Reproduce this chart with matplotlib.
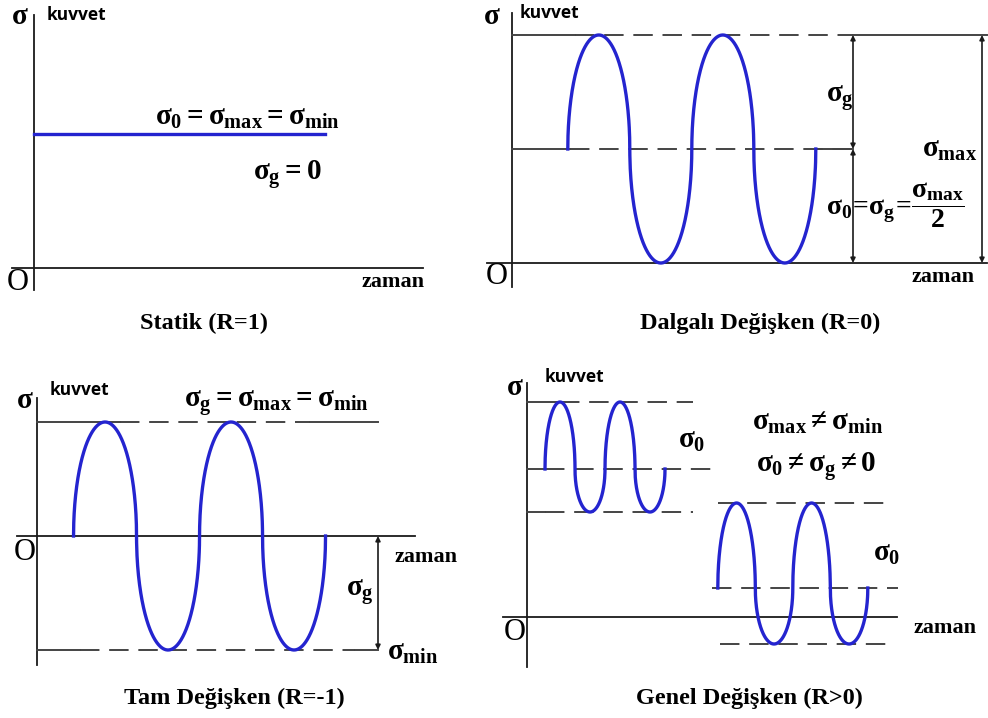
import numpy as np
import matplotlib.pyplot as plt

plt.rcParams['mathtext.fontset'] = 'custom'
plt.rcParams['mathtext.rm'] = 'Liberation Serif:bold'
plt.rcParams['mathtext.it'] = 'Liberation Serif:bold'
plt.rcParams['mathtext.bf'] = 'Liberation Serif:bold'
plt.rcParams['lines.scale_dashes'] = False

W, H = 988, 718
MAVI = '#2424cf'
SIYAH = '#1a1a1a'
GRI = '#444444'
KESIK = (0, (14, 7))

# gerilme seviyeleri (σmax, σ0, σmin) ve zaman bilgileri (periyot birimi)
statik_s0 = 1.0
statik_sure = 4.7

dalgali_smax, dalgali_s0, dalgali_smin = 2.0, 1.0, 0.0
dalgali_t0, dalgali_periyot, dalgali_cevrim = 0.45, 1.0, 2

tam_smax, tam_s0, tam_smin = 1.0, 0.0, -1.0
tam_t0, tam_periyot, tam_cevrim = 0.29, 1.0, 2

genel1_smax, genel1_s0, genel1_smin = 2.15, 1.48, 1.05
genel1_t0, genel1_periyot, genel1_cevrim = 0.30, 1.0, 2
genel2_smax, genel2_s0, genel2_smin = 1.14, 0.29, -0.27
genel2_t0, genel2_periyot, genel2_cevrim = 3.18, 1.25, 2

basliklar = ['Statik (R=1)', 'Dalgalı Değişken (R=0)',
             'Tam Değişken (R=-1)', 'Genel Değişken (R>0)']

fig = plt.figure(figsize=(W / 100, H / 100), dpi=100)


def panel(ox, oy, sx, sy):
    # her grafik kendi veri koordinatlarıyla tüm figürü kaplar
    ax = fig.add_axes([0, 0, 1, 1])
    ax.set_xlim(-ox / sx, (W - ox) / sx)
    ax.set_ylim(-(H - oy) / sy, oy / sy)
    ax.set_axis_off()
    return ax, (lambda p: (p - ox) / sx), (lambda p: (oy - p) / sy)


def eksenler(ax, X, Y, x0, x1, y0, y1):
    ax.plot([X(x0), X(x1)], [0, 0], color=SIYAH, lw=1.3)
    ax.plot([0, 0], [Y(y0), Y(y1)], color=SIYAH, lw=1.3)


def seviye(ax, y, x0, x1, kesik0=None, kesik1=None):
    if kesik0 is None:
        ax.plot([x0, x1], [y, y], color=GRI, lw=1.4, ls=KESIK)
        return
    ax.plot([x0, kesik0], [y, y], color=GRI, lw=1.4)
    ax.plot([kesik0, kesik1], [y, y], color=GRI, lw=1.4, ls=KESIK)
    if kesik1 < x1:
        ax.plot([kesik1, x1], [y, y], color=GRI, lw=1.4)


def dalga(ax, t0, periyot, cevrim, smax, s0, smin):
    # yarım elips biçimli yarım dalgalar: üstte σmax'a, altta σmin'e kadar
    t = np.linspace(t0, t0 + cevrim * periyot, 1200)
    faz = ((t - t0) / periyot * 2) % 2
    yarim = faz % 1
    h = 2 * np.sqrt(np.clip(yarim * (1 - yarim), 0, None))
    y = np.where(faz < 1, s0 + (smax - s0) * h, s0 - (s0 - smin) * h)
    ax.plot(t, y, color=MAVI, lw=2.4)


def ok(ax, x, ya, yb):
    ax.annotate('', xy=(x, ya), xytext=(x, yb),
                arrowprops=dict(arrowstyle='<|-|>', color=SIYAH, lw=1.2,
                                mutation_scale=7, shrinkA=0, shrinkB=0))


def yazi(x, y, s, size, ha='center', **kw):
    fig.text(x / W, 1 - y / H, s, fontsize=size, ha=ha, va='center', **kw)


def serif(x, y, s, size=16, ha='center', weight='bold'):
    yazi(x, y, s, size, ha=ha, family='Liberation Serif', weight=weight)


def eksen_yazilari(sx, sy, kx, ky, ox, oy, zx, zy):
    serif(sx, sy, r'$\sigma$', 21)
    yazi(kx, ky, 'kuvvet', 12.5, ha='left', family='Open Sans', weight='bold')
    serif(ox, oy, 'O', 22, weight='normal')
    serif(zx, zy, 'zaman', 16)


# --- Statik ---
ax, X, Y = panel(34, 268, 62, 134)
eksenler(ax, X, Y, 12, 423, 290, 15)
ax.plot([0, statik_sure], [statik_s0, statik_s0], color=MAVI, lw=2.4)
eksen_yazilari(20, 17, 47, 15, 18, 282, 393, 282)
serif(247, 118, r'$\sigma_0 = \sigma_{max} = \sigma_{min}$', 21)
serif(287, 175, r'$\sigma_g = 0$', 21)
serif(204, 323, basliklar[0], 17.5)

# --- Dalgalı değişken ---
ax, X, Y = panel(512, 263, 124, 114)
eksenler(ax, X, Y, 487, 987, 287, 13)
seviye(ax, dalgali_smax, 0, X(987), X(575), X(853))
seviye(ax, dalgali_s0, 0, X(853), X(570), X(853))
ax.plot([X(818), X(853)], [dalgali_s0, dalgali_s0], color=GRI, lw=1.4)
dalga(ax, dalgali_t0, dalgali_periyot, dalgali_cevrim,
      dalgali_smax, dalgali_s0, dalgali_smin)
ok(ax, X(853), dalgali_smax, dalgali_s0)
ok(ax, X(853), dalgali_s0, dalgali_smin)
ok(ax, X(982), dalgali_smax, dalgali_smin)
eksen_yazilari(492, 17, 520, 13, 497, 277, 943, 277)
serif(840, 98, r'$\sigma_g$', 21)
serif(950, 150, r'$\sigma_{max}$', 21)
serif(895, 205, r'$\sigma_0\!=\!\sigma_g\!=\!\dfrac{\sigma_{max}}{2}$', 20)
serif(760, 323, basliklar[1], 17.5)

# --- Tam değişken ---
ax, X, Y = panel(37, 536, 126, 114)
eksenler(ax, X, Y, 17, 415, 665, 398)
seviye(ax, tam_smax, 0, X(378), X(120), X(310))
seviye(ax, tam_smin, 0, X(378), X(80), X(355))
dalga(ax, tam_t0, tam_periyot, tam_cevrim, tam_smax, tam_s0, tam_smin)
ok(ax, X(378), tam_s0, tam_smin)
eksen_yazilari(25, 400, 50, 390, 25, 552, 426, 557)
serif(276, 403, r'$\sigma_g = \sigma_{max} = \sigma_{min}$', 21)
serif(360, 592, r'$\sigma_g$', 21)
serif(413, 652, r'$\sigma_{min}$', 21)
serif(234, 698, basliklar[2], 17.5)

# --- Genel değişken ---
ax, X, Y = panel(527, 617, 60, 100)
eksenler(ax, X, Y, 503, 897, 667, 383)
seviye(ax, genel1_smax, 0, X(693), X(560), X(693))
seviye(ax, genel1_s0, 0, X(713), X(545), X(713))
seviye(ax, genel1_smin, 0, X(693), X(545), X(693))
seviye(ax, genel2_smax, X(718), X(893))
seviye(ax, genel2_s0, X(712), X(898))
seviye(ax, genel2_smin, X(720), X(893))
dalga(ax, genel1_t0, genel1_periyot, genel1_cevrim,
      genel1_smax, genel1_s0, genel1_smin)
dalga(ax, genel2_t0, genel2_periyot, genel2_cevrim,
      genel2_smax, genel2_s0, genel2_smin)
eksen_yazilari(515, 388, 545, 377, 515, 632, 945, 628)
serif(692, 440, r'$\sigma_0$', 21)
serif(887, 553, r'$\sigma_0$', 21)
serif(818, 423, r'$\sigma_{max} \neq \sigma_{min}$', 21)
serif(816, 467, r'$\sigma_0 \neq \sigma_g \neq 0$', 21)
serif(749, 698, basliklar[3], 17.5)

fig.savefig('out.png', dpi=100)
